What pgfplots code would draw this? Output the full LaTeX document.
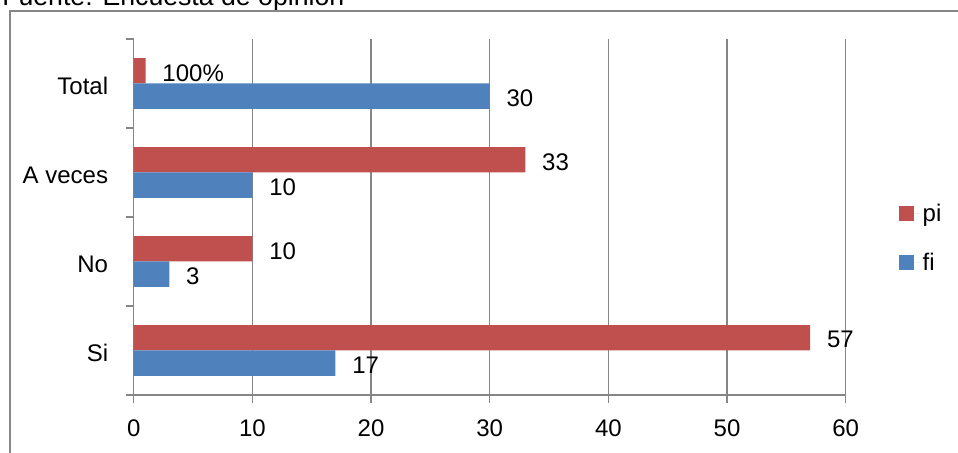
\documentclass[border=0pt]{standalone}
\usepackage{pgfplots}
\pgfplotsset{compat=1.18}
\usetikzlibrary{calc}
\usepackage{fontspec}
\setmainfont{Liberation Sans}
\definecolor{pired}{HTML}{C0504D}
\definecolor{fiblue}{HTML}{4F81BD}
\definecolor{axgray}{HTML}{868686}
\begin{document}
\begin{tikzpicture}[x=0.75pt,y=0.75pt]
\begin{axis}[
  name=ax,
  at={(0,0)}, anchor=south west,
  scale only axis,
  width=534pt, height=267pt,
  xbar, bar width=19pt,
  xmin=0, xmax=60, ymin=-0.5, ymax=3.5,
  xtick={0,10,...,60},
  ytick={0,1,2,3},
  yticklabels={Si,No,A veces,Total},
  minor ytick={-0.5,0.5,1.5,2.5,3.5},
  axis x line*=bottom, axis y line*=left,
  axis line style={axgray,line width=1pt},
  tick align=outside,
  major tick length=6pt, minor tick length=6pt,
  every major y tick/.style={draw=none},
  every minor y tick/.style={axgray,line width=1pt},
  x tick style={axgray,line width=1pt},
  xmajorgrids, grid style={axgray,line width=1pt},
  tick label style={font=\fontsize{18}{21}\selectfont, inner sep=0pt},
  yticklabel style={yshift=-1.8pt},
  /pgf/number format/assume math mode=true,
  xticklabel shift=12.5pt,
  yticklabel shift=13pt,
  point meta=explicit symbolic,
  nodes near coords,
  every node near coord/.append style={font=\fontsize{18}{21}\selectfont, anchor=west, inner sep=0pt, xshift=12.5pt, yshift=-1.5pt, text=black},
  legend style={draw=none, fill=none, at={(1.075,0.545)}, anchor=north west,
    font=\fontsize{18}{21}\selectfont, row sep=18pt, inner sep=0pt},
  legend cell align=left,
  legend image code/.code={\fill[#1] (0pt,-5.6pt) rectangle (11.25pt,5.6pt); \path (0pt,0pt) -- (15.5pt,0pt);},
]
\addplot[fill=pired, draw=none, bar shift=9.5pt] coordinates {(57,0) [57] (10,1) [10] (33,2) [33] (1,3) [100\%]};
\addplot[fill=fiblue, draw=none, bar shift=-9.5pt] coordinates {(17,0) [17] (3,1) [3] (10,2) [10] (30,3) [30]};
\legend{pi,fi}
\end{axis}
\coordinate (O) at ($(ax.south west)+(-133.7,-58)$);
\pgfresetboundingbox
\path[use as bounding box] (O) rectangle ($(O)+(958,453)$);
\begin{scope}
\clip (O) rectangle ($(O)+(958,453)$);
\node[anchor=base west,inner sep=0pt,font=\fontsize{20}{23}\selectfont] at ($(O)+(2,447)$) {Fuente: Encuesta de opinión};
\draw[axgray,line width=1.2pt] ($(O)+(10,-20)$) -- ($(O)+(10,442)$) -- ($(O)+(980,442)$);
\end{scope}
\end{tikzpicture}
\end{document}
